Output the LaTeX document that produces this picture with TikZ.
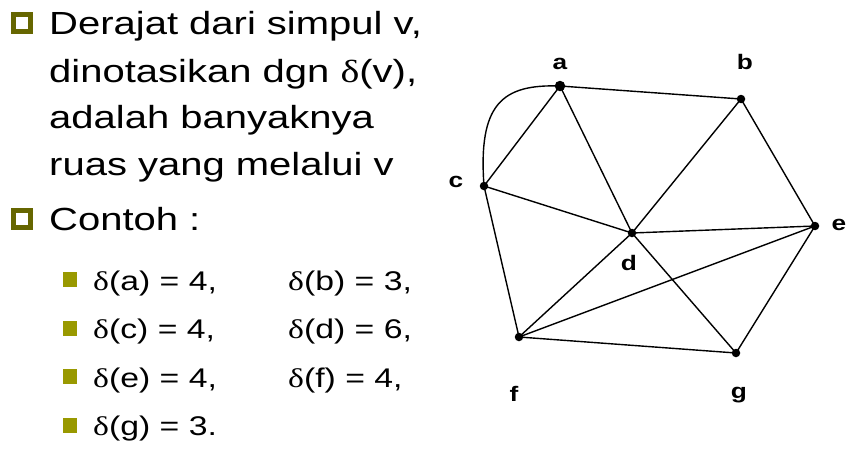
\documentclass[tikz,border=0pt]{standalone}
\usepackage{fontspec}
\setmainfont{Liberation Sans}[FakeStretch=1.25]
\newfontfamily\dfont{Liberation Serif}[FakeStretch=1.25]
\newfontfamily\lblfont{Liberation Sans Bold}[FakeStretch=1.25]
\newcommand\dlt{{\dfont δ}}
\definecolor{oliveA}{HTML}{666600}
\definecolor{oliveB}{HTML}{999900}
\begin{document}
\begin{tikzpicture}[x=1pt,y=-1pt,
  tone/.style={anchor=base west, inner sep=0pt, font=\fontsize{32}{38}\selectfont},
  ttwo/.style={anchor=base west, inner sep=0pt, font=\fontsize{27}{32}\selectfont},
  bulA/.style={draw=oliveA, line width=5pt, fill=white, minimum size=17pt, inner sep=0pt},
  bulB/.style={fill=oliveB, minimum width=14pt, minimum height=15pt, inner sep=0pt},
  vtx/.style={circle, fill=black, inner sep=0pt, minimum size=8.5pt},
  vlbl/.style={anchor=base, inner sep=0pt, font=\lblfont\fontsize{21}{24}\selectfont},
  edge/.style={line width=1.4pt, black}]
\path[fill=white] (0,0) rectangle (857,458);
\useasboundingbox (0,0) rectangle (857,458);
% level-1 bullets
\node[bulA] (b1) at (22,23) {};
\node[bulA] (b2) at (22,219) {};
\node[tone] (t1) at (49,34) {Derajat dari simpul v,};
\node[tone] (t2) at (49,82) {dinotasikan dgn \dlt(v),};
\node[tone] (t3) at (49,128) {adalah banyaknya};
\node[tone] (t4) at (49,175) {ruas yang melalui v};
\node[tone] (t5) at (49,230) {Contoh :};
% level-2 bullets
\node[bulB] (s1) at (70,279.5) {};
\node[bulB] (s2) at (70,328) {};
\node[bulB] (s3) at (70,376.5) {};
\node[bulB] (s4) at (70,425) {};
\node[ttwo] (u1) at (93,290) {\dlt(a) = 4,};
\node[ttwo] (u2) at (288,290) {\dlt(b) = 3,};
\node[ttwo] (u3) at (93,338) {\dlt(c) = 4,};
\node[ttwo] (u4) at (288,338) {\dlt(d) = 6,};
\node[ttwo] (u5) at (93,387) {\dlt(e) = 4,};
\node[ttwo] (u6) at (288,387) {\dlt(f) = 4,};
\node[ttwo] (u7) at (93,435) {\dlt(g) = 3.};
% graph vertices
\node[vtx, minimum size=10.5pt] (a) at (560,86) {};
\node[vtx] (b) at (741,99) {};
\node[vtx] (c) at (484,186) {};
\node[vtx] (d) at (632,233) {};
\node[vtx] (e) at (815,226) {};
\node[vtx] (f) at (519,337) {};
\node[vtx] (g) at (736,353) {};
% labels
\node[vlbl] (la) at (560,69) {a};
\node[vlbl] (lb) at (745,69) {b};
\node[vlbl] (lc) at (456,187) {c};
\node[vlbl] (ld) at (629,270) {d};
\node[vlbl] (le) at (839,230) {e};
\node[vlbl] (lf) at (514,401) {f};
\node[vlbl] (lg) at (739,398) {g};
% edges
\draw[edge] (a.center) -- (b.center);
\draw[edge] (a.center) -- (c.center);
\draw[edge] (a.center) -- (d.center);
\draw[edge] (a.center) .. controls (502,84) and (478,104) .. (c.center);
\draw[edge] (b.center) -- (d.center);
\draw[edge] (b.center) -- (e.center);
\draw[edge] (c.center) -- (d.center);
\draw[edge] (c.center) -- (f.center);
\draw[edge] (d.center) -- (e.center);
\draw[edge] (d.center) -- (f.center);
\draw[edge] (d.center) -- (g.center);
\draw[edge] (e.center) -- (f.center);
\draw[edge] (e.center) -- (g.center);
\draw[edge] (f.center) -- (g.center);
\end{tikzpicture}
\end{document}
